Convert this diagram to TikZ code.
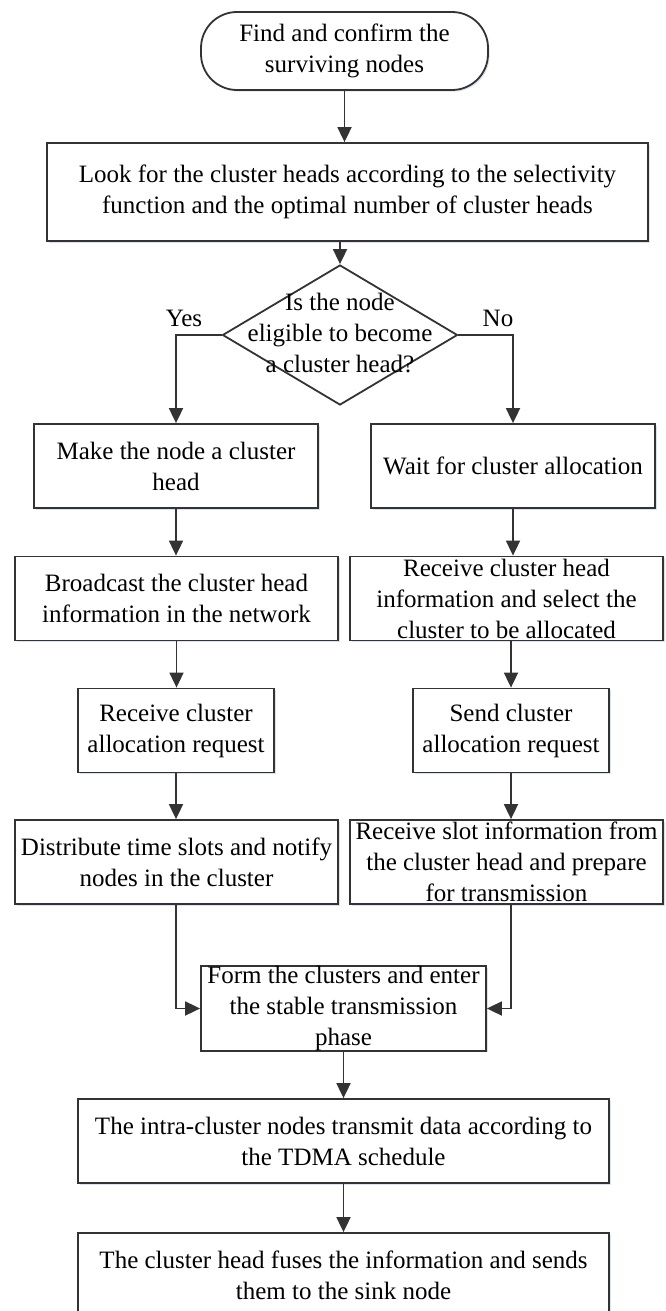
\documentclass[tikz,border=0pt]{standalone}
\usepackage{fontspec}
\setmainfont{Liberation Serif}
\usetikzlibrary{arrows.meta, shapes.geometric, shadows}
\definecolor{lineGray}{gray}{0.2}
\definecolor{shadowBlue}{RGB}{150,170,210}

\begin{document}
\begin{tikzpicture}[x=0.5pt, y=-0.5pt,
    every node/.style={font=\fontsize{12.5}{15.5}\selectfont, align=center},
    proc/.style={draw=lineGray, line width=0.9pt, fill=white, inner xsep=2pt, inner ysep=0pt, minimum height=42pt,
        drop shadow={shadow xshift=0.8pt, shadow yshift=-0.8pt, fill=shadowBlue, opacity=0.35}},
    term/.style={proc, rounded corners=18pt},
    cond/.style={draw=lineGray, line width=0.9pt, fill=white, diamond, inner sep=0pt, minimum width=117.5pt, minimum height=70pt},
    arr/.style={draw=lineGray, line width=0.9pt, -{Triangle[length=7.5pt, width=7pt]}},
    lbl/.style={inner sep=0pt}
]
    % Page
    \useasboundingbox (0,0) rectangle (665,1311);

    % Start and cluster head search
    \node[term, minimum width=143.5pt, minimum height=39pt] (start) at (344.5,51) {Find and confirm the\\surviving nodes};
    \node[proc, minimum width=300.5pt, minimum height=49pt] (look) at (347.5,192) {Look for the cluster heads according to the selectivity\\function and the optimal number of cluster heads};

    % Decision
    \node[cond] (check) at (340,335) {};
    \node[lbl] (checktxt) at (340,333) {Is the node\\eligible to become\\a cluster head?};
    \node[lbl] (yes) at (184,318) {Yes};
    \node[lbl] (no) at (498,318) {No};

    % Cluster head branch
    \node[proc, minimum width=142pt] (make) at (176,466) {Make the node a cluster\\head};
    \node[proc, minimum width=161.5pt] (bcast) at (176.5,598.5) {Broadcast the cluster head\\information in the network};
    \node[proc, minimum width=98pt] (getreq) at (176,730.5) {Receive cluster\\allocation request};
    \node[proc, minimum width=161.5pt] (slots) at (176.5,862) {Distribute time slots and notify\\nodes in the cluster};

    % Member node branch
    \node[proc, minimum width=142pt] (wait) at (513,466) {Wait for cluster allocation};
    \node[proc, minimum width=156.5pt] (pick) at (506.5,598.5) {Receive cluster head\\information and select the\\cluster to be allocated};
    \node[proc, minimum width=98pt] (sendreq) at (511,730.5) {Send cluster\\allocation request};
    \node[proc, minimum width=156.5pt] (prep) at (506.5,862) {Receive slot information from\\the cluster head and prepare\\for transmission};

    % Stable phase
    \node[proc, minimum width=142.5pt] (form) at (343.5,1008.5) {Form the clusters and enter\\the stable transmission\\phase};
    \node[proc, minimum width=265.5pt] (tdma) at (343.5,1141) {The intra-cluster nodes transmit data according to\\the TDMA schedule};
    \node[proc, minimum width=265.5pt] (fuse) at (343.5,1275) {The cluster head fuses the information and sends\\them to the sink node};

    % Connectors
    \draw[arr] (start.south) -- (start.south |- look.north);
    \draw[arr] (check.north |- look.south) -- (check.north);
    \draw[arr] (check.west) -| (make.north);
    \draw[arr] (check.east) -| (wait.north);
    \draw[arr] (make.south) -- (make.south |- bcast.north);
    \draw[arr] (bcast.south) -- (bcast.south |- getreq.north);
    \draw[arr] (getreq.south) -- (getreq.south |- slots.north);
    \draw[arr] (wait.south) -- (wait.south |- pick.north);
    \draw[arr] (sendreq.north |- pick.south) -- (sendreq.north);
    \draw[arr] (sendreq.south) -- (sendreq.south |- prep.north);
    \draw[arr] (getreq.south |- slots.south) |- (form.west);
    \draw[arr] (sendreq.south |- prep.south) |- (form.east);
    \draw[arr] (form.south) -- (form.south |- tdma.north);
    \draw[arr] (tdma.south) -- (tdma.south |- fuse.north);
\end{tikzpicture}
\end{document}
